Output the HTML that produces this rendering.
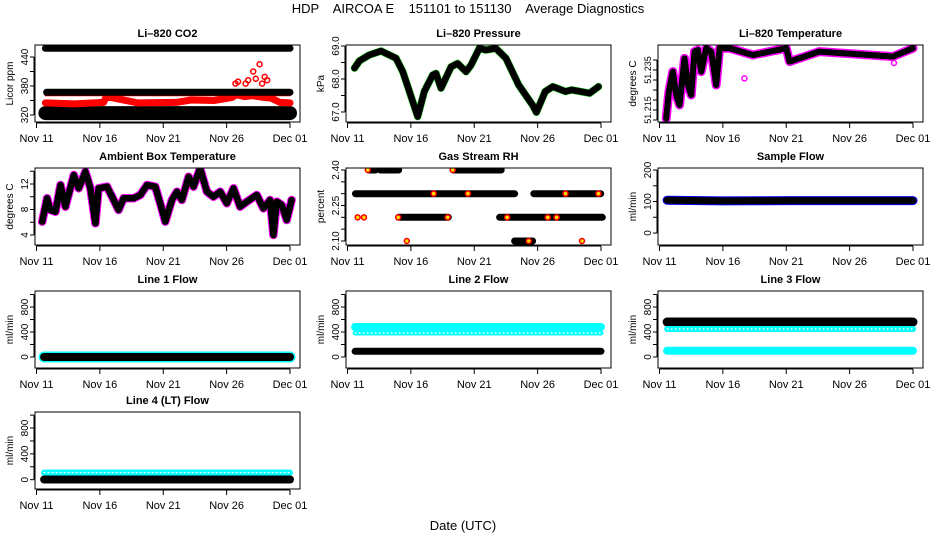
<!DOCTYPE html>
<html><head><meta charset="utf-8"><style>
html,body{margin:0;padding:0;background:#fff;}
svg{display:block;font-family:"Liberation Sans",Arial,sans-serif;}
</style></head><body>
<svg id="chart" width="936" height="540" viewBox="0 0 936 540" xmlns="http://www.w3.org/2000/svg">
<text x="468" y="13" font-size="13" text-anchor="middle" xml:space="preserve">HDP    AIRCOA E    151101 to 151130    Average Diagnostics</text>
<text x="463" y="530" font-size="13" text-anchor="middle">Date (UTC)</text>
</svg>
<script>
// ---- shared x tick data ----
const xTickDays = [0, 5, 10, 15, 20];
const xTickLabels = ["Nov 11", "Nov 16", "Nov 21", "Nov 26", "Dec 01"];

// ---- CO2 ----
const co2BlackHighDays = [0.7, 20]; const co2BlackHighVals = [458, 458];
const co2BlackMidDays = [0.8, 20]; const co2BlackMidVals = [367, 367];
const co2BlackLowDays = [0.7, 20]; const co2BlackLowVals = [324, 324];
const co2RedLineDays = [0.7, 20]; const co2RedLineVals = [361, 361];
const co2RedDays = [0.7, 3, 5.3, 5.5, 8, 11, 12.2, 14, 15.4, 15.8, 16.4, 17, 17.8, 18.5, 19.2, 20];
const co2RedVals = [345, 343, 346, 358, 345, 346, 351, 350, 356, 362, 358, 360, 357, 355, 346, 345];
const co2SpikeDays = [15.7, 15.9, 16.5, 16.7, 17.1, 17.3, 17.6, 17.8, 18.0, 18.2];
const co2SpikeVals = [385, 389, 385, 392, 410, 395, 425, 385, 399, 392];

// ---- Pressure ----
const presDays = [0.55,0.94,1.73,2.65,3.83,4.36,4.88,5.54,6.06,6.72,6.98,7.38,8.17,8.69,9.35,9.74,10.4,10.9,11.7,12.5,13.5,14.6,14.9,15.6,16.2,17.2,17.7,19.1,19.8];
const presVals = [68.33,68.55,68.73,68.85,68.63,68.22,67.62,66.86,67.62,68.12,68.17,67.72,68.37,68.47,68.22,68.42,68.93,68.88,68.93,68.63,67.82,67.21,66.99,67.62,67.77,67.62,67.67,67.57,67.77];

// ---- Li-820 Temperature ----
const tempDays = [0.53,0.74,1.05,1.32,1.58,1.97,2.24,2.5,2.76,3.03,3.29,3.69,4.08,4.47,4.74,5.53,7.37,10,10.26,12.6,18.4,20];
const tempVals = [51.2108,51.2242,51.2342,51.2225,51.2175,51.2408,51.2275,51.2225,51.2442,51.245,51.2342,51.2459,51.2442,51.2275,51.2459,51.2459,51.2425,51.2459,51.2392,51.2442,51.2417,51.2459];
const tempOutDays = [6.7, 18.5]; const tempOutVals = [51.2308, 51.2385];

// ---- Ambient Box Temperature ----
const ambDays = [0.45,0.84,1.1,1.5,1.89,2.28,2.94,3.33,3.86,4.25,4.65,4.9,5.57,6.48,6.87,7.66,8.19,8.72,9.37,9.76,10.16,10.68,11.08,11.47,12,12.39,12.91,13.44,13.96,14.49,15.01,15.54,16.06,16.59,17.38,17.9,18.43,18.69,18.96,19.35,19.74,20.13];
const ambVals = [6.09,9.76,7.92,7.66,11.84,8.44,13.41,11.32,13.93,11.32,5.83,11.32,11.58,7.92,9.76,9.76,10.27,11.84,11.58,8.97,6.09,9.49,10.8,9.49,13.15,11.58,14.46,10.8,10.01,10.8,8.97,11.32,8.44,9.23,10.27,8.18,9.49,4.0,9.23,8.71,6.35,9.49];

// ---- Gas Stream RH (segments: start day, end day, value) ----
const rhStart = [1.67, 2.59, 8.34, 0.63, 14.7, 4.03, 12.0, 13.18];
const rhEnd   = [2.2, 4.03, 12.13, 13.18, 19.98, 7.95, 20.1, 14.6];
const rhVals  = [2.40, 2.40, 2.40, 2.30, 2.30, 2.20, 2.20, 2.10];
const rhDotDays = [0.8, 1.3, 1.6, 4.0, 4.68, 6.8, 7.9, 8.3, 9.5, 12.6, 14.3, 15.8, 16.5, 17.2, 18.5, 19.8];
const rhDotVals = [2.20, 2.20, 2.40, 2.20, 2.10, 2.30, 2.20, 2.40, 2.30, 2.20, 2.10, 2.20, 2.20, 2.30, 2.10, 2.30];

// ---- Sample Flow ----
const sampDays = [0.6, 5, 10, 15, 20]; const sampVals = [104, 102, 103, 103, 103];

// ---- Line flows ----
const l1Days = [0.6, 20]; const l1Black = [0, 0];
const l2Days = [0.6, 20]; const l2CyanTop = [480, 480]; const l2CyanDot = [384, 384]; const l2CyanLow = [128, 128]; const l2Black = [91, 91];
const l3Days = [0.6, 20]; const l3Black = [560, 560]; const l3CyanDot = [448, 448]; const l3Cyan = [101, 101];
const l4Days = [0.6, 20]; const l4CyanDot = [110, 110]; const l4Black = [3, 3];

const NS = "http://www.w3.org/2000/svg";
const svg = document.getElementById("chart");
function mk(tag, attrs, parent) {
  const e = document.createElementNS(NS, tag);
  for (const k in attrs) e.setAttribute(k, attrs[k]);
  (parent || svg).appendChild(e);
  return e;
}
const COLS = [35, 346, 658];
const ROWS = [45, 168, 291, 412];
const H = 77, W = 265;

function panel(name, col, row, title, ylab, v0, r0, v1, r1, ticks, labels, tfs) {
  const L = COLS[col], T = ROWS[row], R = L + W, B = T + H;
  const g = mk("g", {});
  
  
  const x = d => L + 1.5 + d * (W - 11.5) / 20;
  const y = v => T + r0 + (v - v0) * (r1 - r0) / (v1 - v0);
  const t = mk("text", {x: (L + R) / 2, y: T - 8, "font-size": 11, "font-weight": "bold", "text-anchor": "middle"}, g);
  t.textContent = title;
  
  
  const yl = mk("text", {transform: `translate(${L - 22},${(T + B) / 2}) rotate(-90)`, "font-size": 10, "text-anchor": "middle"}, g);
  yl.textContent = ylab;
  
  
  const ys = ticks.map(y);
  mk("line", {x1: L - 1, x2: L - 1, y1: Math.min(...ys), y2: Math.max(...ys), stroke: "#000"}, g);
  ticks.forEach((v, i) => {
    const py = y(v);
    mk("line", {x1: L - 5, x2: L - 1, y1: py, y2: py, stroke: "#000"}, g);
    if (labels[i]) {
      const tl = mk("text", {transform: `translate(${L - 7},${py}) rotate(-90)`, "font-size": tfs || 10, "text-anchor": "middle"}, g);
      tl.textContent = labels[i];
      
      
    }
  });
  mk("line", {x1: x(0), x2: x(20), y1: B + 1, y2: B + 1, stroke: "#000"}, g);
  xTickDays.forEach((d, i) => {
    mk("line", {x1: x(d), x2: x(d), y1: B + 1, y2: B + 6, stroke: "#000"}, g);
    const tl = mk("text", {x: x(d), y: B + 20, "font-size": 11, "text-anchor": "middle"}, g);
    tl.textContent = xTickLabels[i];
    
    
  });
  const plot = mk("g", {}, g);
  const cp = mk("clipPath", {id: "cp-" + name}, g);
  mk("rect", {x: L, y: T, width: W, height: H}, cp);
  plot.setAttribute("clip-path", "url(#cp-" + name + ")");
  const frame = mk("rect", {x: L, y: T, width: W, height: H, fill: "none", stroke: "#000"}, g);
  
  
  return {x, y, g: plot};
}
function line(p, days, vals, color, w, nm, dash) {
  const pts = days.map((d, i) => p.x(d).toFixed(1) + "," + p.y(vals[i]).toFixed(1)).join(" ");
  const e = mk("polyline", {points: pts, fill: "none", stroke: color, "stroke-width": w, "stroke-linejoin": "round", "stroke-linecap": "round"}, p.g);
  if (dash) e.setAttribute("stroke-dasharray", dash);
  
  
  return e;
}
function dots(p, days, vals, stroke, fill, r, nm) {
  days.forEach((d, i) => {
    const c = mk("circle", {cx: p.x(d), cy: p.y(vals[i]), r: r, fill: fill, stroke: stroke, "stroke-width": 1.5}, p.g);
    
    
  });
}

let p = panel("co2", 0, 0, "Li\u2013820 CO2", "Licor ppm", 320, 70, 440, 12, [320, 350, 380, 410, 440], ["320", "", "380", "", "440"]);
line(p, co2BlackHighDays, co2BlackHighVals, "#000", 7, "co2-black-high-series");
line(p, co2BlackLowDays, co2BlackLowVals, "#000", 14, "co2-black-low-series");
line(p, co2RedDays, co2RedVals, "#f00", 7, "co2-red-series");
line(p, co2RedLineDays, co2RedLineVals, "#f00", 2, "co2-red-line-series");
line(p, co2BlackMidDays, co2BlackMidVals, "#000", 7, "co2-black-mid-series");
dots(p, co2SpikeDays, co2SpikeVals, "#f00", "none", 2.5, "co2-red-spike");

p = panel("pressure", 1, 0, "Li\u2013820 Pressure", "kPa", 67, 67, 69, 1, [67, 67.5, 68, 68.5, 69], ["67.0", "", "68.0", "", "69.0"]);
line(p, presDays, presVals, "#2c2", 7.5, "pressure-green-series");
line(p, presDays, presVals, "#000", 6.5, "pressure-black-series");

p = panel("temperature", 2, 0, "Li\u2013820 Temperature", "degrees C", 51.215, 65, 51.235, 25, [51.21, 51.215, 51.22, 51.225, 51.23, 51.235, 51.24], ["", "51.215", "", "", "", "51.235", ""], 9);
line(p, tempDays, tempVals, "#f0f", 9, "temperature-magenta-series");
line(p, tempDays, tempVals, "#000", 6, "temperature-black-series");
dots(p, tempOutDays, tempOutVals, "#f0f", "none", 2.5, "temperature-outlier");

p = panel("ambient", 0, 1, "Ambient Box Temperature", "degrees C", 4, 67, 12, 16, [4, 6, 8, 10, 12, 14], ["4", "", "8", "", "12", ""]);
line(p, ambDays, ambVals, "#f0f", 8.5, "ambient-magenta-series");
line(p, ambDays, ambVals, "#000", 6.5, "ambient-black-series");

p = panel("rh", 1, 1, "Gas Stream RH", "percent", 2.1, 73, 2.4, 2, [2.1, 2.15, 2.2, 2.25, 2.3, 2.35, 2.4], ["2.10", "", "", "2.25", "", "", "2.40"]);
rhVals.forEach((v, i) => line(p, [rhStart[i], rhEnd[i]], [v, v], "#000", 7, "rh-segment"));
dots(p, rhDotDays, rhDotVals, "#f00", "#fd0", 2.5, "rh-yellow-point");

p = panel("sample-flow", 2, 1, "Sample Flow", "ml/min", 0, 65, 200, 2, [0, 50, 100, 150, 200], ["0", "", "100", "", "200"]);
line(p, sampDays, sampVals, "#00f", 9, "sample-flow-blue-series");
line(p, sampDays, sampVals, "#000", 7, "sample-flow-black-series");

const fTicks = [0, 200, 400, 600, 800, 1000], fLabels = ["0", "", "400", "", "800", ""];
p = panel("line1-flow", 0, 2, "Line 1 Flow", "ml/min", 0, 66, 800, 16, fTicks, fLabels);
line(p, l1Days, l1Black, "#0ff", 11, "line1-cyan-series");
line(p, l1Days, l1Black, "#000", 8, "line1-black-series");

p = panel("line2-flow", 1, 2, "Line 2 Flow", "ml/min", 0, 66, 800, 16, fTicks, fLabels);
line(p, l2Days, l2CyanTop, "#0ff", 8, "line2-cyan-top-series");
line(p, l2Days, l2CyanDot, "#0ff", 5, "line2-cyan-dotted-series");
line(p, l2Days, l2CyanDot, "#fff", 1.2, "line2-cyan-dotted-gaps", "1 3");
line(p, l2Days, l2CyanLow, "#0ff", 2, "line2-cyan-low-series");
line(p, l2Days, l2Black, "#000", 7, "line2-black-series");

p = panel("line3-flow", 2, 2, "Line 3 Flow", "ml/min", 0, 66, 800, 16, fTicks, fLabels);
line(p, l3Days, l3Black, "#000", 9, "line3-black-series");
line(p, l3Days, l3CyanDot, "#0ff", 6, "line3-cyan-dotted-series");
line(p, l3Days, l3CyanDot, "#fff", 1.2, "line3-cyan-dotted-gaps", "1 3");
line(p, l3Days, l3Cyan, "#0ff", 8, "line3-cyan-series");

p = panel("line4-flow", 0, 3, "Line 4 (LT) Flow", "ml/min", 0, 67.7, 800, 16, fTicks, fLabels);
line(p, l4Days, l4CyanDot, "#0ff", 6, "line4-cyan-dotted-series");
line(p, l4Days, l4CyanDot, "#fff", 1.2, "line4-cyan-dotted-gaps", "1 3");
line(p, l4Days, l4Black, "#000", 8, "line4-black-series");
</script>
</body></html>
